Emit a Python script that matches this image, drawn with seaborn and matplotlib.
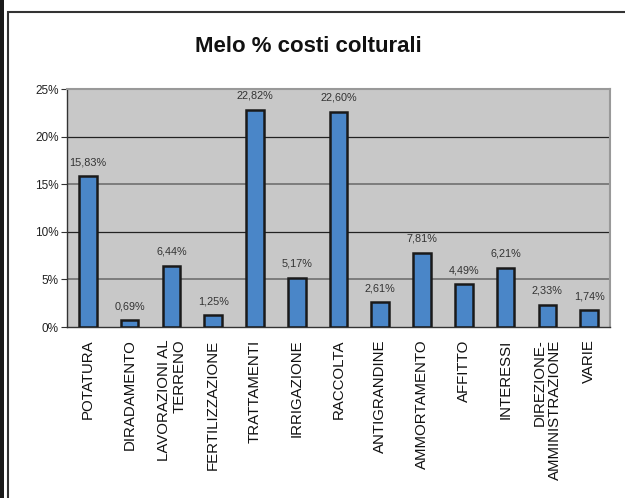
import matplotlib
matplotlib.use("Agg")
import matplotlib.pyplot as plt
import seaborn as sns
import numpy as np
from matplotlib.patches import Rectangle

categories = ["POTATURA", "DIRADAMENTO", "LAVORAZIONI AL\nTERRENO", "FERTILIZZAZIONE",
              "TRATTAMENTI", "IRRIGAZIONE", "RACCOLTA", "ANTIGRANDINE",
              "AMMORTAMENTO", "AFFITTO", "INTERESSI", "DIREZIONE-\nAMMINISTRAZIONE", "VARIE"]
values = [15.83, 0.69, 6.44, 1.25, 22.82, 5.17, 22.60, 2.61, 7.81, 4.49, 6.21, 2.33, 1.74]
yticks = [0, 5, 10, 15, 20, 25]
title = "Melo % costi colturali"

sns.set_style("white")
plt.rcParams['font.family'] = ['Liberation Sans', 'DejaVu Sans']

fig = plt.figure(figsize=(6.25, 4.98), dpi=100)
W, H = 625, 498
# outer frame and left bar
fig.patches.append(Rectangle((0, 0), 4 / W, 1, transform=fig.transFigure, facecolor='#1a1a1a', edgecolor='none'))
fig.patches.append(Rectangle((8 / W, -0.1), 1.2, 1 - 12 / H + 0.1, transform=fig.transFigure,
                             facecolor='none', edgecolor='#333333', linewidth=1.5))

ax = fig.add_axes([67 / W, 1 - 327 / H, (610 - 67) / W, (327 - 89) / H])
ax.set_facecolor('#c8c8c8')

x = np.arange(len(categories))
sns.barplot(x=x, y=values, ax=ax, color='#4a86c8', saturation=1, width=0.42,
            edgecolor='#1a1a1a', linewidth=1.8, zorder=3)

ax.set_xlim(-0.5, len(categories) - 0.5)
ax.set_ylim(0, 25)
ax.set_yticks(yticks)
ax.set_yticklabels([f"{t}%" for t in yticks], fontsize=8.5, color='#222222')

for t in yticks[1:-1]:
    col = '#222222' if t % 10 == 0 else '#777777'
    lw = 0.9 if t % 10 == 0 else 1.3
    ax.axhline(t, color=col, linewidth=lw, zorder=1)

ax.set_xticks(x)
ax.set_xticklabels(categories, rotation=90, fontsize=10.8, color='#111111',
                   va='top', ha='center', multialignment='right', linespacing=1.15)
ax.tick_params(axis='x', length=0, pad=9)
ax.set_xticks(np.arange(len(categories) + 1) - 0.5, minor=True)
ax.tick_params(axis='x', which='minor', direction='in', length=4, color='#333333', width=0.8)
ax.tick_params(axis='y', direction='out', length=4, color='#333333', width=0.8, pad=2, left=True)

for s in ['top', 'right']:
    ax.spines[s].set_color('#999999')
    ax.spines[s].set_linewidth(1.5)
ax.spines['left'].set_color('#333333')
ax.spines['bottom'].set_color('#333333')
ax.spines['left'].set_linewidth(1.0)
ax.spines['bottom'].set_linewidth(1.0)

for xi, v in zip(x, values):
    ax.annotate(f"{v:.2f}%".replace('.', ','), (xi, v), xytext=(0, 6.5), textcoords='offset points',
                ha='center', va='bottom', fontsize=7.8, color='#333333')

fig.text(308 / W, 1 - 47 / H, title, ha='center', va='center', fontsize=16, fontweight='bold', color='#111111')

fig.savefig("out.png", dpi=100)
